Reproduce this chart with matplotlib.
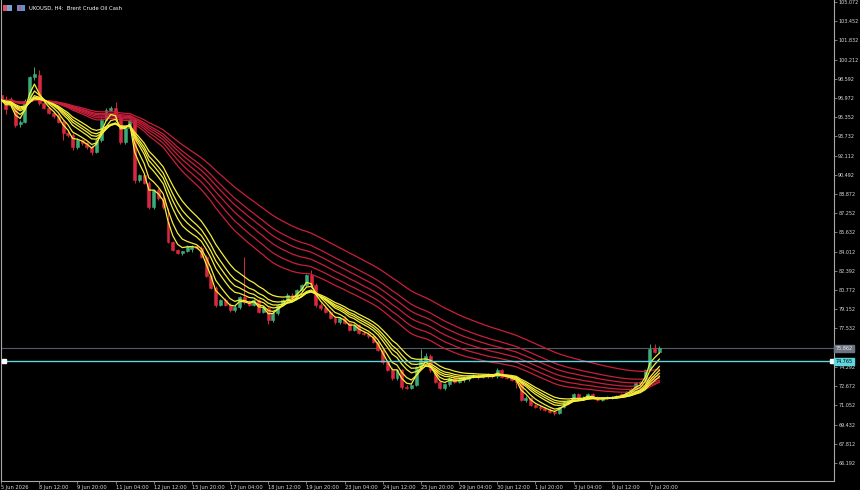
import matplotlib
matplotlib.use("Agg")
import matplotlib.pyplot as plt
import matplotlib.transforms as mtransforms
from matplotlib.patches import Rectangle
import numpy as np
import pandas as pd

# UKOUSD (Brent Crude Oil Cash), H4 candles from 5 Jun 04:00 to 8 Jul 04:00
symbol_title = "UKOUSD, H4:  Brent Crude Oil Cash"

opens = [97.22, 96.80, 96.90, 96.21, 94.80, 94.95, 96.70, 98.70, 98.90, 96.55,
         96.12, 95.70, 95.45, 94.94, 94.02, 93.85, 92.84, 93.43, 93.17, 92.84,
         92.41, 93.43, 95.11, 95.96, 96.12, 95.37, 93.26, 94.44, 95.11, 90.05,
         90.49, 89.80, 87.78, 89.21, 88.54, 86.50, 84.83, 84.15, 83.90, 84.07,
         84.20, 84.45, 84.32, 83.56, 81.96, 80.95, 79.51, 79.94, 79.51, 79.09,
         79.35, 80.19, 79.77, 79.51, 79.94, 78.92, 79.26, 78.25, 78.84, 79.51,
         79.94, 80.36, 80.10, 80.78, 81.20, 82.04, 81.20, 79.51, 79.26, 78.92,
         78.42, 78.08, 78.42, 78.00, 77.41, 77.83, 77.15, 77.07, 76.90, 76.40,
         75.72, 74.71, 74.03, 73.36, 74.03, 72.60, 72.52, 72.77, 74.29, 74.90,
         75.20, 74.03, 73.02, 72.52, 72.85, 73.36, 73.02, 73.19, 73.27, 73.53,
         73.61, 73.44, 73.61, 73.53, 73.50, 74.03, 73.44, 73.36, 73.19, 73.02,
         71.50, 71.67, 71.08, 70.91, 70.83, 70.66, 70.49, 70.41, 70.91, 71.34,
         71.50, 72.01, 71.59, 71.67, 72.01, 71.76, 71.50, 71.67, 71.67, 71.76,
         72.01, 71.93, 72.18, 72.43, 72.94, 72.98, 74.03, 75.90, 75.55]
highs = [97.50, 97.10, 97.05, 96.40, 95.10, 96.90, 98.85, 99.58, 99.30, 96.70,
         96.25, 95.85, 95.60, 95.10, 94.30, 94.00, 93.60, 93.55, 93.30, 93.00,
         93.60, 95.30, 96.10, 96.30, 96.63, 95.50, 94.55, 95.25, 95.30, 90.60,
         90.60, 89.95, 89.30, 89.40, 88.70, 87.70, 84.95, 84.25, 84.10, 84.60,
         84.55, 84.55, 84.50, 83.70, 82.10, 81.10, 80.05, 80.10, 79.70, 79.50,
         80.30, 83.56, 79.90, 80.00, 80.00, 79.40, 79.35, 78.90, 79.60, 80.05,
         80.50, 80.50, 80.90, 81.30, 82.10, 82.47, 81.35, 79.70, 79.50, 79.10,
         78.60, 78.50, 78.55, 78.10, 77.95, 77.95, 77.30, 77.20, 77.05, 76.55,
         75.85, 74.80, 74.30, 74.10, 74.15, 72.80, 72.85, 74.40, 75.80, 75.45,
         75.35, 74.10, 73.10, 72.95, 73.45, 73.45, 73.30, 73.40, 73.60, 73.70,
         73.70, 73.70, 73.75, 73.65, 74.20, 74.15, 73.55, 73.45, 73.30, 73.10,
         71.80, 71.75, 71.20, 71.05, 70.95, 70.80, 70.65, 70.95, 71.40, 71.60,
         72.10, 72.10, 71.80, 72.10, 72.10, 71.85, 71.75, 71.80, 71.85, 71.95,
         72.10, 72.25, 72.50, 73.00, 73.10, 74.15, 76.20, 76.22, 76.05]
lows = [96.70, 95.60, 96.30, 94.50, 94.50, 94.85, 96.60, 98.50, 96.40, 96.05,
        95.60, 95.30, 94.85, 93.40, 93.70, 92.60, 92.70, 93.00, 92.70, 92.16,
        92.30, 93.30, 95.00, 95.85, 95.20, 93.10, 93.10, 94.30, 89.80, 89.90,
        89.70, 87.60, 87.65, 88.40, 87.60, 84.70, 84.05, 83.80, 83.75, 83.95,
        84.00, 84.20, 83.45, 81.85, 80.85, 79.35, 79.40, 79.40, 78.95, 78.95,
        79.20, 79.60, 79.40, 79.40, 78.80, 78.80, 77.95, 78.10, 78.70, 79.40,
        79.80, 79.95, 80.00, 80.60, 81.05, 81.05, 79.35, 79.10, 78.80, 78.30,
        77.90, 77.95, 77.90, 77.30, 77.30, 77.05, 76.95, 76.75, 76.30, 75.60,
        74.55, 73.95, 73.20, 73.20, 72.45, 72.40, 72.40, 72.65, 74.20, 74.80,
        73.90, 72.90, 72.40, 72.35, 72.70, 72.90, 72.90, 73.00, 73.10, 73.35,
        73.30, 73.35, 73.40, 73.40, 73.40, 73.35, 73.25, 73.10, 72.50, 71.40,
        71.35, 71.00, 70.85, 70.70, 70.55, 70.40, 70.25, 70.30, 70.80, 71.25,
        71.40, 71.50, 71.50, 71.55, 71.70, 71.45, 71.40, 71.55, 71.60, 71.65,
        71.85, 71.85, 72.10, 72.35, 72.75, 72.90, 73.95, 75.50, 75.45]
closes = [96.80, 96.00, 96.40, 94.69, 94.95, 96.70, 98.70, 98.95, 96.55, 96.12,
          95.70, 95.45, 94.94, 94.02, 93.85, 92.84, 93.43, 93.17, 92.84, 92.41,
          93.43, 95.11, 95.96, 96.12, 95.37, 93.26, 94.44, 95.11, 90.05, 90.49,
          89.80, 87.78, 89.21, 88.54, 87.78, 84.83, 84.15, 83.90, 84.07, 84.49,
          84.45, 84.32, 83.56, 81.96, 80.95, 79.51, 79.94, 79.51, 79.09, 79.35,
          80.19, 79.77, 79.51, 79.94, 78.92, 79.26, 78.25, 78.84, 79.51, 79.94,
          80.36, 80.10, 80.78, 81.20, 82.04, 81.20, 79.51, 79.26, 78.92, 78.42,
          78.08, 78.42, 78.00, 77.41, 77.83, 77.15, 77.07, 76.90, 76.40, 75.72,
          74.71, 74.03, 73.36, 74.03, 72.60, 72.52, 72.77, 74.29, 74.90, 75.20,
          74.03, 73.02, 72.52, 72.85, 73.36, 73.02, 73.19, 73.27, 73.53, 73.61,
          73.44, 73.61, 73.53, 73.50, 74.03, 73.44, 73.36, 73.19, 73.02, 71.50,
          71.67, 71.08, 70.91, 70.83, 70.66, 70.49, 70.41, 70.91, 71.34, 71.50,
          72.01, 71.59, 71.67, 72.01, 71.76, 71.50, 71.67, 71.67, 71.76, 71.84,
          71.93, 72.18, 72.43, 72.94, 72.98, 74.03, 75.80, 75.55, 75.862]

# Guppy-style EMA ribbons
fast_periods = [3, 5, 8, 10, 12, 15]
slow_periods = [30, 35, 40, 45, 50, 60]

last_price = 75.862
level_price = 74.765

price_labels = ["66.192", "67.812", "69.432", "71.052", "72.672", "74.292",
                "75.912", "77.532", "79.152", "80.772", "82.392", "84.012",
                "85.632", "87.252", "88.872", "90.492", "92.112", "93.732",
                "95.352", "96.972", "98.592", "100.212", "101.832", "103.452",
                "105.072"]
time_labels = ["5 Jun 2026", "8 Jun 12:00", "9 Jun 20:00", "11 Jun 04:00",
               "12 Jun 12:00", "15 Jun 20:00", "17 Jun 04:00", "18 Jun 12:00",
               "19 Jun 20:00", "23 Jun 04:00", "24 Jun 12:00", "25 Jun 20:00",
               "29 Jun 04:00", "30 Jun 12:00", "1 Jul 20:00", "3 Jul 04:00",
               "6 Jul 12:00", "7 Jul 20:00"]

BG = "black"
BULL = "#3bab78"
BEAR = "#d9283f"
FAST = "#f4ee3a"
SLOW = "#c81f3b"
TXT = "#d8d8d8"

o = np.array(opens)
h = np.array(highs)
l = np.array(lows)
c = np.array(closes)
x = np.arange(len(c))

fig = plt.figure(figsize=(8.6, 4.9), dpi=100, facecolor=BG)
ax = fig.add_axes([0.0012, 0.0184, 0.9686, 0.9816], facecolor=BG)

# candles
colors = np.where(c >= o, BULL, BEAR)
ax.vlines(x, l, h, colors=colors, linewidth=0.7, zorder=2)
ax.bar(x, np.abs(c - o), bottom=np.minimum(o, c), width=0.62,
       color=colors, edgecolor=colors, linewidth=0.4, zorder=2)

# moving average ribbons
close_s = pd.Series(c)
for p in slow_periods:
    ax.plot(x, close_s.ewm(span=p, adjust=False).mean(), color=SLOW, lw=0.9, zorder=3)
for p in fast_periods:
    ax.plot(x, close_s.ewm(span=p, adjust=False).mean(), color=FAST, lw=0.9, zorder=4)

# price lines
ax.axhline(last_price, color="#555b66", lw=0.8, zorder=1)
ax.axhline(level_price, color="#5fd6de", lw=1.0, zorder=5)
blend = mtransforms.blended_transform_factory(ax.transAxes, ax.transData)
ax.plot([0.003, 0.997], [level_price, level_price], ls="none", marker="s",
        ms=2.2, color="white", transform=blend, zorder=6, clip_on=False)

ax.set_xlim(0, 174.6)
ax.set_ylim(64.674, 105.232)

# axes styling
for side in ["left", "right", "bottom"]:
    ax.spines[side].set_color("#a8a8a8")
    ax.spines[side].set_linewidth(0.8)
ax.spines["top"].set_visible(False)

# the tick label hidden under the last-price tag is left blank
shown_labels = ["" if abs(float(s) - last_price) < 0.3 else s for s in price_labels]
ax.yaxis.tick_right()
ax.set_yticks([float(s) for s in price_labels])
ax.set_yticklabels(shown_labels)
ax.tick_params(axis="y", colors="#a8a8a8", labelcolor=TXT, labelsize=3.5,
               length=2, width=0.5, pad=1)

ax.set_xticks(np.arange(len(time_labels)) * 8)
ax.set_xticklabels(time_labels, ha="left")
ax.tick_params(axis="x", colors="#a8a8a8", labelcolor=TXT, labelsize=3.7,
               length=2, width=0.5, pad=1)

# price tags on the right scale
ax.text(1.002, last_price, f"{last_price:.3f}", transform=blend, fontsize=3.5,
        color="#e6e9ee", va="center", ha="left", zorder=10, clip_on=False,
        bbox=dict(boxstyle="square,pad=0.25", fc="#6d7482", ec="#6d7482"))
ax.text(1.002, level_price, f"{level_price:.3f}", transform=blend, fontsize=3.5,
        color="black", va="center", ha="left", zorder=10, clip_on=False,
        bbox=dict(boxstyle="square,pad=0.25", fc="#5fd6de", ec="#5fd6de"))

# header
ax.text(0.034, 0.983, symbol_title, transform=ax.transAxes, fontsize=3.8,
        color="white", va="center", ha="left")
fig.patches.append(Rectangle((3 / 860, 479 / 490), 4 / 860, 6 / 490,
                             transform=fig.transFigure, fc="#e05060", ec="none"))
fig.patches.append(Rectangle((7 / 860, 479 / 490), 5 / 860, 6 / 490,
                             transform=fig.transFigure, fc="#7aa0d8", ec="none"))
fig.patches.append(Rectangle((17 / 860, 479 / 490), 8 / 860, 6 / 490,
                             transform=fig.transFigure, fc="#5f8fd0", ec="none"))
fig.patches.append(Rectangle((19 / 860, 480 / 490), 2 / 860, 4 / 490,
                             transform=fig.transFigure, fc="#e05060", ec="none"))

fig.savefig("out.png", dpi=100, facecolor=BG)
